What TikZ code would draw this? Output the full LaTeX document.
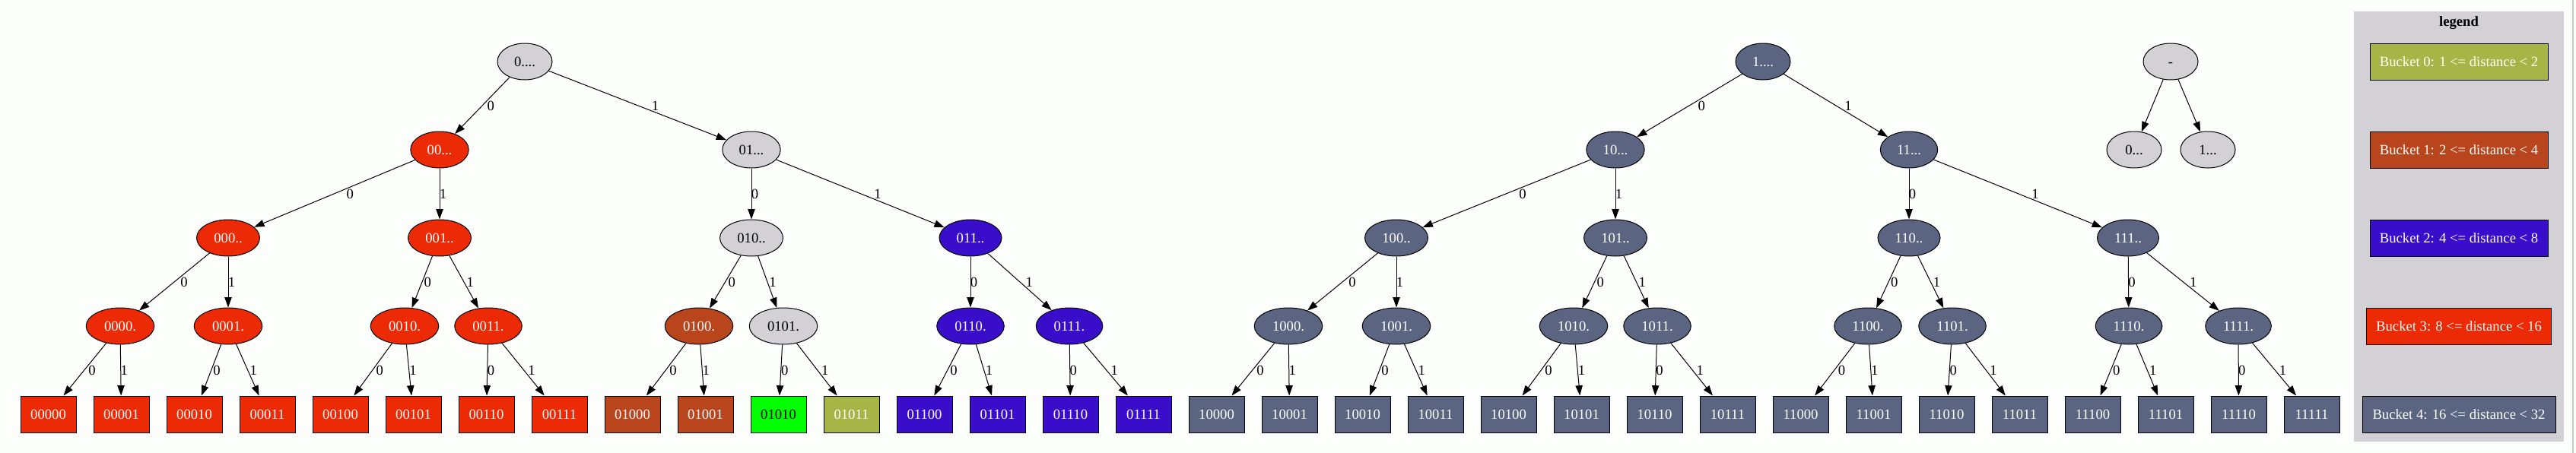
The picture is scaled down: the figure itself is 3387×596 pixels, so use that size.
\documentclass[tikz,border=0pt]{standalone}
\usepackage{fontspec}
\setmainfont{Liberation Serif}
\usetikzlibrary{shapes.geometric,arrows.meta,calc}
\definecolor{cgray}{HTML}{D3D0D6}
\definecolor{cred}{HTML}{EC2A05}
\definecolor{cbrown}{HTML}{B9451D}
\definecolor{cblue}{HTML}{3A0DCB}
\definecolor{colive}{HTML}{A6B545}
\definecolor{cslate}{HTML}{5B6481}
\definecolor{cgreen}{HTML}{00FF00}
\definecolor{bgc}{HTML}{FCFEFC}
\definecolor{edgec}{HTML}{C8C8C8}
\tikzset{
  base/.style={draw=black, line width=0.75pt, font=\fontsize{14}{16}\selectfont, text height=9.5pt, text depth=0pt},
  ell/.style={base, ellipse, minimum width=54pt, minimum height=36pt, inner xsep=8pt, inner ysep=1pt},
  leaf/.style={base, rectangle, minimum width=54.75pt, minimum height=36pt, inner sep=0pt},
  leg/.style={base, rectangle, minimum height=36pt, inner sep=0pt, text=white},
  gr/.style={fill=cgray, text=black},
  rd/.style={fill=cred, text=white},
  br/.style={fill=cbrown, text=white},
  bl/.style={fill=cblue, text=white},
  ol/.style={fill=colive, text=white},
  sl/.style={fill=cslate, text=white},
  gn/.style={fill=cgreen, text=black},
  edgeline/.style={draw=black, line width=0.75pt, -{Triangle[length=10pt,width=7pt]}},
  elab/.style={font=\fontsize{14}{16}\selectfont, inner sep=0pt, text height=9.5pt, text depth=0pt}
}
\newcommand\tedge[3]{%
  \draw[edgeline] (#1) -- (#2);
  \path let \p1=(#1.center), \p2=(#2.center),
    \n1={abs((\x2)-(\x1))/((\y1)-(\y2))} in
    node[elab] at ({0.5*(\x1)+0.5*(\x2)+5.25pt*\n1+3.4pt},{0.5*(\y1)+0.5*(\y2)}) {#3};
}
\begin{document}
\begin{tikzpicture}[x=0.75pt, y=-0.75pt]
\useasboundingbox (0,0) rectangle (3387,596);
\fill[bgc] (0,0) rectangle (3387,596);
\draw[edgec, line width=1.5pt] (3383,0) -- (3383,596);

% legend
\node[fill=cgray, inner sep=0pt, minimum width=207pt, minimum height=424.5pt] (legbg) at (3233,298) {};
\node[font=\fontsize{14}{16}\selectfont\bfseries, inner sep=0pt] (legtitle) at (3233,30) {legend};
\node[leg, fill=colive, minimum width=175.5pt] (b0) at (3233,81) {Bucket 0: 1 <= distance < 2};
\node[leg, fill=cbrown, minimum width=175.5pt] (b1) at (3233,197) {Bucket 1: 2 <= distance < 4};
\node[leg, fill=cblue, minimum width=175.5pt] (b2) at (3233,313) {Bucket 2: 4 <= distance < 8};
\node[leg, fill=cred, minimum width=182.25pt] (b3) at (3233,429) {Bucket 3: 8 <= distance < 16};
\node[leg, fill=cslate, minimum width=190.5pt] (b4) at (3233,545) {Bucket 4: 16 <= distance < 32};

% level 0
\node[ell,gr] (n0) at (690,81) {0....};
\node[ell,sl] (n1) at (2318,81) {1....};
\node[ell,gr] (nm) at (2854,81) {-};
% level 1
\node[ell,rd] (n00) at (578,197) {00...};
\node[ell,gr] (n01) at (988,197) {01...};
\node[ell,sl] (n10) at (2124,197) {10...};
\node[ell,sl] (n11) at (2510,197) {11...};
\node[ell,gr] (s0) at (2806,197) {0...};
\node[ell,gr] (s1) at (2903,197) {1...};
% level 2
\node[ell,rd] (n000) at (300,313) {000..};
\node[ell,rd] (n001) at (578,313) {001..};
\node[ell,gr] (n010) at (988,313) {010..};
\node[ell,bl] (n011) at (1276,313) {011..};
\node[ell,sl] (n100) at (1836,313) {100..};
\node[ell,sl] (n101) at (2124,313) {101..};
\node[ell,sl] (n110) at (2510,313) {110..};
\node[ell,sl] (n111) at (2798,313) {111..};
% level 3
\node[ell,rd] (n0000) at (158,429) {0000.};
\node[ell,rd] (n0001) at (300,429) {0001.};
\node[ell,rd] (n0010) at (532,429) {0010.};
\node[ell,rd] (n0011) at (642,429) {0011.};
\node[ell,br] (n0100) at (919,429) {0100.};
\node[ell,gr] (n0101) at (1030,429) {0101.};
\node[ell,bl] (n0110) at (1276,429) {0110.};
\node[ell,bl] (n0111) at (1406,429) {0111.};
\node[ell,sl] (n1000) at (1694,429) {1000.};
\node[ell,sl] (n1001) at (1836,429) {1001.};
\node[ell,sl] (n1010) at (2069,429) {1010.};
\node[ell,sl] (n1011) at (2179,429) {1011.};
\node[ell,sl] (n1100) at (2456,429) {1100.};
\node[ell,sl] (n1101) at (2567,429) {1101.};
\node[ell,sl] (n1110) at (2799,429) {1110.};
\node[ell,sl] (n1111) at (2943,429) {1111.};
% leaves
\foreach \lab/\col [count=\i from 0] in {00000/rd,00001/rd,00010/rd,00011/rd,00100/rd,00101/rd,00110/rd,00111/rd,
  01000/br,01001/br,01010/gn,01011/ol,01100/bl,01101/bl,01110/bl,01111/bl,
  10000/sl,10001/sl,10010/sl,10011/sl,10100/sl,10101/sl,10110/sl,10111/sl,
  11000/sl,11001/sl,11010/sl,11011/sl,11100/sl,11101/sl,11110/sl,11111/sl}
  {\node[leaf,\col] (L\lab) at ({63.5+96*\i},545) {\lab};}

% edges
\foreach \q in {0,1,00,01,10,11,000,001,010,011,100,101,110,111}
  {\tedge{n\q}{n\q0}{0}\tedge{n\q}{n\q1}{1}}
\foreach \q in {0000,0001,0010,0011,0100,0101,0110,0111,1000,1001,1010,1011,1100,1101,1110,1111}
  {\tedge{n\q}{L\q0}{0}\tedge{n\q}{L\q1}{1}}
\draw[edgeline] (nm) -- (s0);
\draw[edgeline] (nm) -- (s1);
\end{tikzpicture}
\end{document}
